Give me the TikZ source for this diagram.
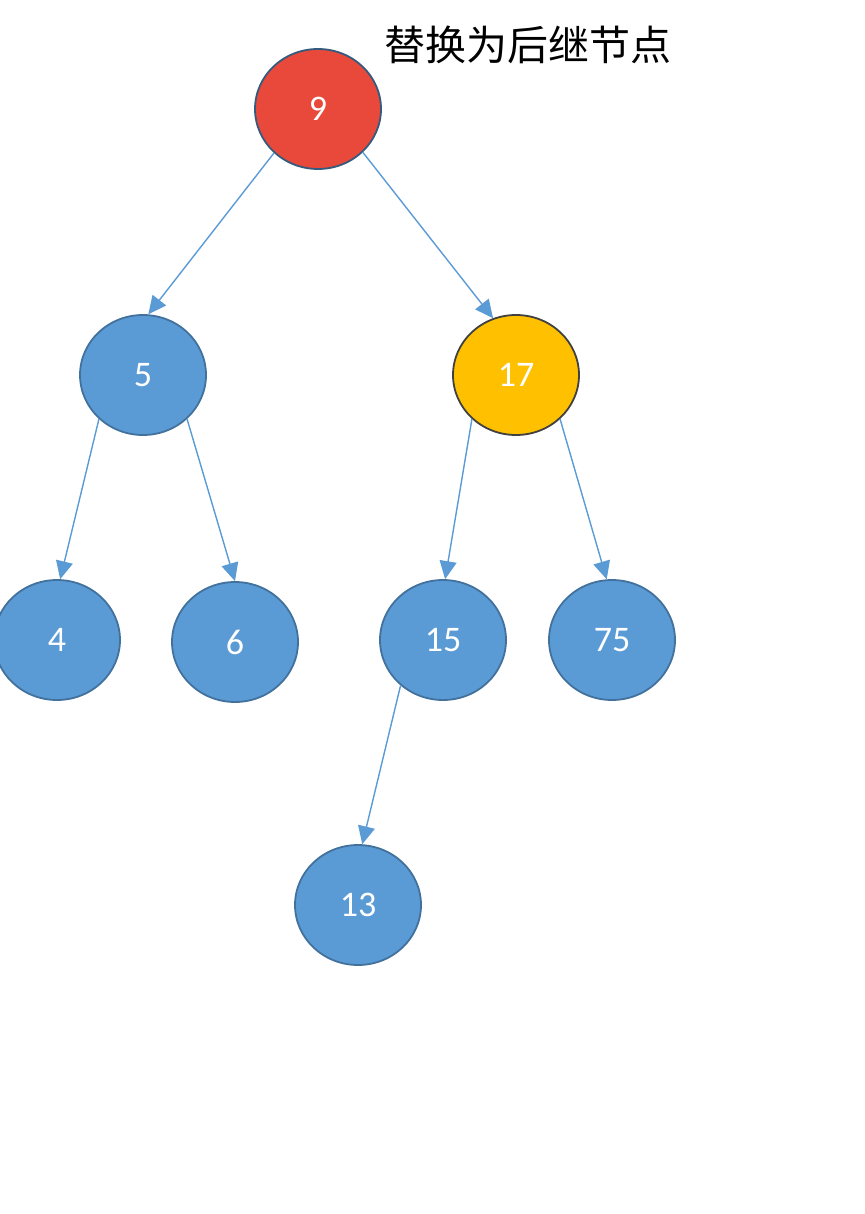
\documentclass[tikz,border=0pt]{standalone}
\usepackage{fontspec}
\setmainfont{Carlito}
\newfontfamily\cjk{Noto Sans CJK SC}
\usetikzlibrary{shapes.geometric,arrows.meta}

\definecolor{nodeblue}{HTML}{5B9BD5}
\definecolor{nodeedge}{HTML}{41719C}
\definecolor{delred}{HTML}{E8493B}
\definecolor{succyellow}{HTML}{FFC000}

\begin{document}
\begin{tikzpicture}[x=1pt, y=-1pt,
	key/.style={ellipse, draw=nodeedge, line width=1.8pt, fill=nodeblue,
		minimum width=126pt, minimum height=120pt, inner sep=0pt,
		text=white, font=\fontsize{36}{42}\selectfont},
	link/.style={draw=nodeblue, line width=1.4pt, -{Triangle[length=18pt,width=17pt]}}]
	\useasboundingbox (0,0) rectangle (864,1214);
	% title
	\node (title) at (528,45) {\cjk\fontsize{41}{48}\selectfont 替换为后继节点};
	% keys
	\node[key, fill=delred, draw=nodeedge!80!black] (n9) at (318,109) {9};
	\node[key] (n5) at (143,375) {5};
	\node[key, fill=succyellow, draw=black!75] (n17) at (516,375) {17};
	\node[key] (n4) at (57,640) {4};
	\node[key] (n6) at (235,642) {6};
	\node[key] (n15) at (443,640) {15};
	\node[key] (n75) at (612,640) {75};
	\node[key] (n13) at (358,905) {13};
	% links
	\draw[link] (n9.225) -- (n5.85);
	\draw[link] (n9.316) -- (n17.112);
	\draw[link] (n5.225) -- (n4.87);
	\draw[link] (n5.315) -- (n6.90);
	\draw[link] (n17.225) -- (n15.88);
	\draw[link] (n17.315) -- (n75.95);
	\draw[link] (n15.227) -- (n13.86);
\end{tikzpicture}
\end{document}
